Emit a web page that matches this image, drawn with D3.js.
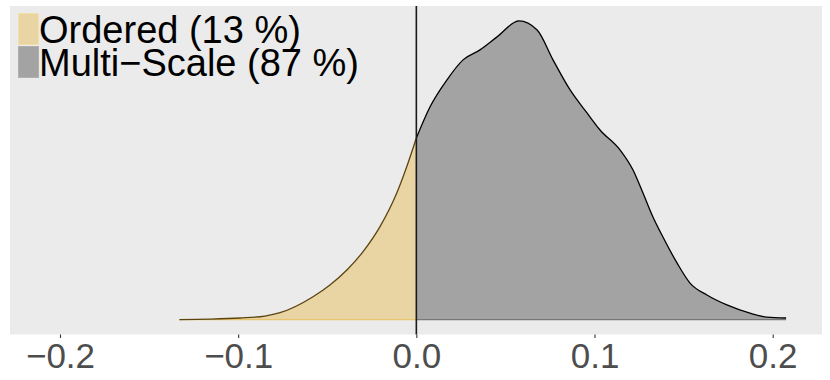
<!DOCTYPE html>
<html>
<head>
<meta charset="utf-8">
<script src="https://cdn.jsdelivr.net/npm/d3@7"></script>
<style>
  body { margin: 0; background: #fff; }
  text { font-family: "Liberation Sans", Arial, sans-serif; }
</style>
</head>
<body>
<svg id="chart" width="830" height="380"></svg>
<script>
// density estimate (left of zero = Ordered, right = Multi-Scale)
const orderedX = [-0.133, -0.116, -0.099, -0.085, -0.0765, -0.058, -0.0485, -0.039, -0.0299, -0.0204, -0.011, -0.0054, 0];
const orderedY = [0, 0.02, 0.07, 0.16, 0.31, 1.03, 1.56, 2.24, 3.07, 4.20, 5.72, 6.91, 8.21];
const multiX = [0, 0.0077, 0.0172, 0.0262, 0.0357, 0.0453, 0.0576, 0.0678, 0.0767, 0.0863, 0.0958, 0.1031, 0.1143,
  0.1216, 0.1272, 0.1328, 0.1384, 0.1463, 0.1536, 0.1631, 0.1743, 0.1872, 0.1968, 0.2075];
const multiY = [8.21, 9.62, 10.84, 11.74, 12.19, 12.78, 13.5, 13.09, 11.74, 10.38, 9.34, 8.57, 7.67,
  6.76, 5.72, 4.64, 3.73, 2.56, 1.65, 1.11, 0.66, 0.29, 0.11, 0.07];
const legendLabels = ["Ordered (13 %)", "Multi\u2212Scale (87 %)"];
const xTicks = [-0.2, -0.1, 0.0, 0.1, 0.2];

const svg = d3.select("svg#chart");
const panel = {left: 10, right: 822, top: 6, bottom: 334.5};

// x range with ggplot style expansion
const x = d3.scaleLinear().domain([-0.2, 0.2]).range([60, 772.7]);
const ymax = d3.max(multiY.concat(orderedY));
const y = d3.scaleLinear().domain([-ymax * 0.05, ymax * 1.05]).range([panel.bottom, panel.top]);

svg.append("rect")
  .attr("x", panel.left).attr("y", panel.top)
  .attr("width", panel.right - panel.left).attr("height", panel.bottom - panel.top)
  .attr("fill", "#EBEBEB");

const series = [
  {xs: orderedX, ys: orderedY, fill: "#E8D5A3", line: "#5C4410", base: "#E9C46F"},
  {xs: multiX, ys: multiY, fill: "#A3A3A3", line: "#000000", base: "#777777"}
];

const area = d3.area()
  .x(d => x(d[0])).y0(y(0)).y1(d => y(d[1]))
  .curve(d3.curveMonotoneX);
const line = d3.line()
  .x(d => x(d[0])).y(d => y(d[1]))
  .curve(d3.curveMonotoneX);

series.forEach(function(s) {
  const pts = s.xs.map((v, i) => [v, s.ys[i]]);
  svg.append("path").attr("d", area(pts)).attr("fill", s.fill);
  svg.append("line")
    .attr("x1", x(s.xs[0])).attr("x2", x(s.xs[s.xs.length - 1]))
    .attr("y1", y(0)).attr("y2", y(0))
    .attr("stroke", s.base).attr("stroke-width", 1.2);
  svg.append("path").attr("d", line(pts))
    .attr("fill", "none").attr("stroke", s.line).attr("stroke-width", 1.3);
});

// zero reference line
svg.append("line")
  .attr("x1", x(0)).attr("x2", x(0))
  .attr("y1", panel.top).attr("y2", panel.bottom)
  .attr("stroke", "#1a1a1a").attr("stroke-width", 1.6);

// x axis
const axis = svg.append("g").attr("transform", `translate(0,${panel.bottom})`)
  .call(d3.axisBottom(x).tickValues(xTicks).tickSize(3.5).tickPadding(5)
    .tickFormat(d => d3.format(".1f")(d).replace("-", "\u2212")));
axis.select(".domain").remove();
axis.selectAll(".tick line").attr("stroke", "#333333").attr("stroke-width", 1.1);
axis.selectAll(".tick text")
  .attr("fill", "#4D4D4D").attr("font-size", 35)
  .attr("font-family", "Liberation Sans, Arial, sans-serif");

// legend
const legend = svg.append("g");
legendLabels.forEach(function(lab, i) {
  const top = 13 + i * 33;
  legend.append("rect")
    .attr("x", 18.5).attr("y", top + 0.5)
    .attr("width", 20).attr("height", 31)
    .attr("fill", series[i].fill)
    .attr("stroke", i === 0 ? "#F3DFA8" : "#B0B0B0").attr("stroke-width", 1);
  legend.append("text")
    .attr("x", 39).attr("y", top + 29.5 + i * 0.5)
    .attr("font-size", 38).attr("fill", "#000")
    .text(lab);
});
</script>
</body>
</html>
